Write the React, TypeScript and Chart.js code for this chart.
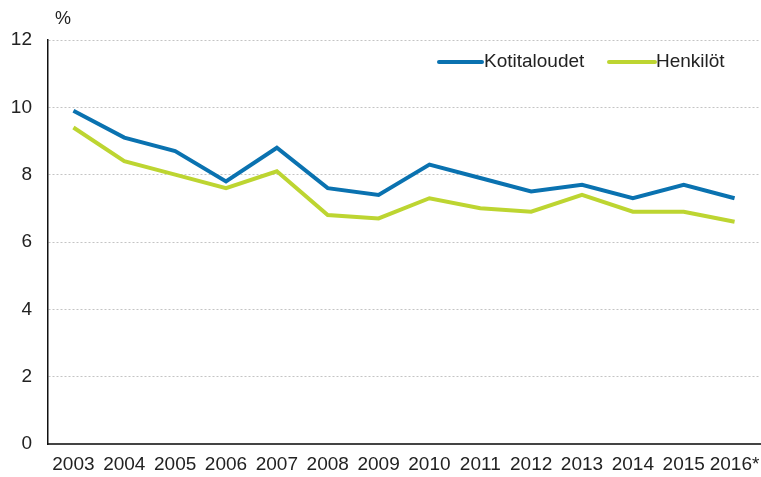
import React, { useEffect, useRef } from "react";
import { Chart, registerables } from "chart.js";

Chart.register(...registerables);

const years = ["2003", "2004", "2005", "2006", "2007", "2008", "2009", "2010", "2011", "2012", "2013", "2014", "2015", "2016*"];
const kotitaloudet = [9.9, 9.1, 8.7, 7.8, 8.8, 7.6, 7.4, 8.3, 7.9, 7.5, 7.7, 7.3, 7.7, 7.3];
const henkilot = [9.4, 8.4, 8.0, 7.6, 8.1, 6.8, 6.7, 7.3, 7.0, 6.9, 7.4, 6.9, 6.9, 6.6];
const seriesNames = ["Kotitaloudet", "Henkilöt"];
const seriesColors = ["#0a72b0", "#bdd531"];
const yTicks = [0, 2, 4, 6, 8, 10, 12];
const unitLabel = "%";

const FONT = "'Liberation Sans', Arial, sans-serif";

const overlayPlugin = {
  id: "overlay",
  afterDraw(chart: any) {
    const ctx = chart.ctx;
    ctx.save();
    ctx.fillStyle = "#222";
    ctx.font = `18px ${FONT}`;
    ctx.textBaseline = "middle";
    ctx.textAlign = "left";
    ctx.fillText(unitLabel, 55, 19);
    const entries = [
      { x0: 439, x1: 482, tx: 484 },
      { x0: 609, x1: 655, tx: 656 },
    ];
    const ly = 62;
    const byLabel: any = {};
    chart.data.datasets.forEach((ds: any) => (byLabel[ds.label] = ds));
    seriesNames.forEach((name, i) => {
      const ds = byLabel[name];
      const e = entries[i];
      ctx.strokeStyle = ds.borderColor;
      ctx.lineWidth = 4;
      ctx.lineCap = "round";
      ctx.beginPath();
      ctx.moveTo(e.x0, ly);
      ctx.lineTo(e.x1, ly);
      ctx.stroke();
      ctx.fillStyle = "#222";
      ctx.font = `19px ${FONT}`;
      ctx.fillText(ds.label, e.tx, ly);
    });
    ctx.restore();
  },
};

export default function App() {
  const ref = useRef<HTMLCanvasElement | null>(null);
  useEffect(() => {
    document.body.style.margin = "0";
    const canvas = ref.current!;
    const chart = new Chart(canvas, {
      type: "line",
      data: {
        labels: years,
        datasets: [
          {
            label: seriesNames[1],
            data: henkilot,
            borderColor: seriesColors[1],
            backgroundColor: seriesColors[1],
            borderWidth: 4,
            pointRadius: 0,
            tension: 0,
          },
          {
            label: seriesNames[0],
            data: kotitaloudet,
            borderColor: seriesColors[0],
            backgroundColor: seriesColors[0],
            borderWidth: 4,
            pointRadius: 0,
            tension: 0,
          },
        ],
      },
      options: {
        animation: false,
        responsive: false,
        devicePixelRatio: 1,
        layout: { padding: { top: 40, right: 1, left: 0, bottom: 0 } },
        plugins: {
          legend: { display: false },
          tooltip: { enabled: false },
        },
        scales: {
          x: {
            offset: true,
            grid: { display: false, drawTicks: false },
            border: { display: true, color: "#444", width: 2 },
            ticks: {
              color: "#222",
              font: { family: FONT, size: 19 },
              padding: 9,
              maxRotation: 0,
              autoSkip: false,
            },
            afterFit: (s: any) => {
              s.height = 33;
              s.paddingLeft = 0;
              s.paddingRight = 0;
            },
          },
          y: {
            min: 0,
            max: 12,
            afterBuildTicks: (s: any) => {
              s.ticks = yTicks.map((v) => ({ value: v }));
            },
            grid: { color: "#c4c4c4", lineWidth: 1, drawTicks: false },
            border: { display: true, color: "#111", width: 1.5, dash: [2, 2] },
            ticks: {
              color: "#222",
              font: { family: FONT, size: 19 },
              padding: 16,
            },
            afterFit: (s: any) => {
              s.width = 48;
            },
          },
        },
      },
      plugins: [overlayPlugin],
    } as any);
    return () => chart.destroy();
  }, []);
  return <canvas ref={ref} width={761} height={477} style={{ display: "block" }} />;
}
